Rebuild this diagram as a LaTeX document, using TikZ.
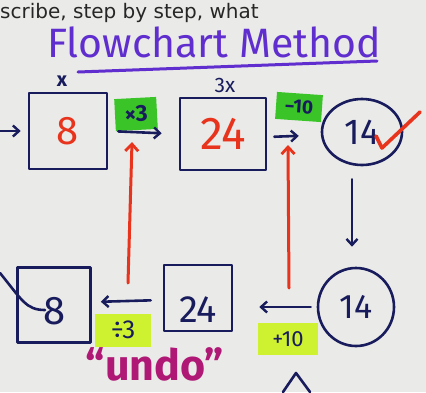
\documentclass[tikz,border=0pt]{standalone}
\usepackage{fontspec}
\setmainfont{Fira Sans}
\newfontfamily\printfont{DejaVu Sans}
\usetikzlibrary{arrows.meta,shapes.geometric}
\definecolor{bgwall}{RGB}{234,234,232}
\definecolor{ink}{RGB}{24,28,92}
\definecolor{redink}{RGB}{232,52,28}
\definecolor{titleink}{RGB}{96,46,206}
\definecolor{undoink}{RGB}{176,24,118}
\definecolor{hlgreen}{RGB}{58,196,40}
\definecolor{hlyellow}{RGB}{206,242,48}
\tikzset{
  x=1pt, y=-1pt,
  marker/.style={line width=2.6pt, line cap=round, line join=round},
  numbox/.style={marker, draw=ink, rectangle, inner sep=0pt},
  numring/.style={marker, draw=ink, ellipse, inner sep=0pt},
  bignum/.style={font=\fontsize{40}{40}\selectfont},
  flowarrow/.style={marker, draw=ink, -{Straight Barb[length=6pt,width=11pt,line width=2.4pt]}},
  undoarrow/.style={marker, draw=redink, line width=3pt, -{Straight Barb[length=7pt,width=13pt,line width=2.8pt]}},
  hlgreenbox/.style={fill=hlgreen, inner sep=0pt, text=ink, font=\fontsize{23}{23}\selectfont\bfseries},
  hlyellowbox/.style={fill=hlyellow, inner sep=0pt, text=ink, font=\fontsize{22}{22}\selectfont},
}
\begin{document}
\begin{tikzpicture}
  % board
  \fill[bgwall] (0,0) rectangle (426,392);
  \useasboundingbox (0,0) rectangle (426,392);

  % printed line and handwritten title
  \node[anchor=base west, inner sep=0pt, font=\printfont\fontsize{20}{20}\selectfont, text=black!85]
    (printed) at (0,18) {scribe, step by step, what};
  \node[anchor=base, inner sep=0pt, text=titleink, font=\fontsize{41}{41}\selectfont]
    (title) at (214,57) {Flowchart Method};
  \coordinate (ulA) at (78,72);
  \coordinate (ulB) at (377,61);
  \draw[marker, draw=titleink, line width=3pt] (ulA) -- (ulB);

  % forward row
  \node[numbox, minimum width=78pt, minimum height=76pt] (boxA) at (68,131) {};
  \node[bignum, text=redink] at (boxA) {8};
  \node[text=ink, font=\fontsize{20}{20}\selectfont\bfseries] (tagA) at (62,81) {x};

  \node[numbox, minimum width=86pt, minimum height=72pt] (boxB) at (223,134) {};
  \node[bignum, text=redink, font=\fontsize{46}{46}\selectfont] at (boxB) {24};
  \node[text=ink, font=\fontsize{21}{21}\selectfont] (tagB) at (225,85) {3x};

  \node[numring, minimum width=80pt, minimum height=66pt] (ringA) at (362,132) {};
  \node[bignum, text=ink, font=\fontsize{36}{36}\selectfont] at (ringA) {14};

  \node[hlgreenbox, minimum width=42pt, minimum height=32pt, rotate=3] (opA) at (136,114) {×3};
  \node[hlgreenbox, minimum width=46pt, minimum height=27pt, rotate=-4, font=\fontsize{19}{19}\selectfont\bfseries] (opB) at (299,107) {−10};

  \coordinate (inA) at (0,131);
  \draw[flowarrow] (inA) -- ([xshift=-7pt]boxA.west);
  \draw[flowarrow, shorten <=10pt, shorten >=17pt] (boxA.east) -- (boxB.west);
  \draw[flowarrow, shorten <=7pt, shorten >=22pt] ([yshift=-3pt]boxB.east) -- ([yshift=-3pt]ringA.west);

  % check mark
  \coordinate (ckA) at (376,136);
  \coordinate (ckB) at (382,148);
  \coordinate (ckC) at (420,112);
  \draw[marker, draw=redink, line width=3.6pt] (ckA) -- (ckB) -- (ckC);

  % reversed row
  \node[numring, minimum width=76pt, minimum height=78pt] (ringB) at (356,307) {};
  \node[bignum, text=ink, font=\fontsize{34}{34}\selectfont] at (ringB) {14};

  \node[numbox, minimum width=68pt, minimum height=66pt] (boxD) at (198,298) {};
  \node[bignum, text=ink, font=\fontsize{38}{38}\selectfont] at ([yshift=-12pt]boxD) {24};

  \node[numbox, minimum width=73pt, minimum height=75pt] (boxC) at (54,305) {};
  \node[bignum, text=ink, font=\fontsize{40}{40}\selectfont] at ([xshift=1pt,yshift=-6pt]boxC) {8};

  \node[hlyellowbox, minimum width=60pt, minimum height=32pt] (opD) at (288,339) {+10};
  \node[hlyellowbox, minimum width=56pt, minimum height=33pt, font=\fontsize{26}{26}\selectfont] (opC) at (123,330) {÷3};

  \draw[flowarrow] ([xshift=-10pt,yshift=-13pt]ringA.south) -- ([xshift=-4pt,yshift=20pt]ringB.north);
  \draw[flowarrow, shorten <=6pt, shorten >=26pt] (ringB.west) -- (ringB.west -| boxD.east);
  \draw[flowarrow, shorten <=12pt, shorten >=9pt] ([yshift=-2pt]boxD.west) -- ([yshift=3pt]boxC.east);

  % stray stroke into the lower 8
  \coordinate (tailA) at (0,273);
  \coordinate (tailB) at (45,310);
  \draw[marker, draw=ink] (tailA) .. controls (22,300) and (26,310) .. (tailB);

  % undo arrows
  \coordinate (upAbot) at (128,283);
  \coordinate (upAtop) at (132,142);
  \coordinate (upBbot) at (289,288);
  \coordinate (upBtop) at (288,145);
  \draw[undoarrow] (upAbot) -- (upAtop);
  \draw[undoarrow] (upBbot) -- (upBtop);

  \node[text=undoink, font=\fontsize{43}{43}\selectfont\bfseries, inner sep=0pt] (undo) at (155,364) {“undo”};

  % arrowhead peeking in at the bottom
  \coordinate (peekA) at (283,392);
  \coordinate (peekB) at (296,373);
  \coordinate (peekC) at (310,392);
  \draw[marker, draw=ink] (peekA) -- (peekB) -- (peekC);
\end{tikzpicture}
\end{document}
